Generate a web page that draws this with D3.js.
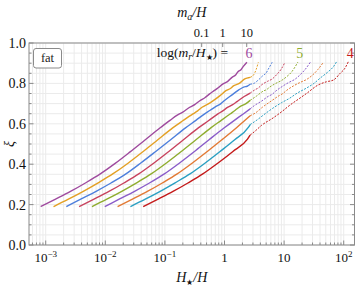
<!DOCTYPE html>
<html>
<head>
<meta charset="utf-8">
<script src="https://cdn.jsdelivr.net/npm/d3@7"></script>
<style>
  body { margin: 0; background: #fff; }
</style>
</head>
<body>
<svg id="chart" width="357" height="288" style="font-family: 'Liberation Serif', 'DejaVu Serif', serif;"></svg>
<script>
// log10(m_r/H*) of each curve, top-left to bottom-right
var logMr = [6, 5.75, 5.5, 5.25, 5, 4.75, 4.5, 4.25, 4];
var colors = ["#9f4a9e", "#e3a024", "#4d7fdc", "#c8435e", "#8fad2f", "#8a5cc9", "#e27a35", "#2a9fc2", "#c41a1a"];

// each curve: [log10(H*/H), xi]
var curves = [
  [[-3.084,.19],[-2.834,.227],[-2.584,.265],[-2.334,.307],[-2.084,.352],[-1.834,.404],[-1.584,.461],[-1.334,.520],[-1.084,.579],[-0.914,.617],[-0.80,.642],[-0.70,.658],[-0.584,.682],[-0.50,.695],[-0.414,.714],[-0.33,.729],[-0.25,.748],[-0.194,.760],[-0.10,.780],[-0.024,.798],[0.05,.809],[0.126,.830],[0.19,.843],[0.226,.858],[0.28,.869],[0.316,.884],[0.376,.905]],
  [[-2.869,.19],[-2.619,.227],[-2.369,.266],[-2.119,.308],[-1.869,.353],[-1.619,.405],[-1.369,.462],[-1.119,.521],[-0.869,.580],[-0.70,.615],[-0.53,.649],[-0.45,.664],[-0.37,.683],[-0.28,.697],[-0.20,.712],[-0.08,.738],[0.03,.765],[0.10,.775],[0.15,.788],[0.22,.796],[0.26,.803],[0.34,.822],[0.40,.828],[0.43,.830],[0.49,.843],[0.53,.868],[0.567,.904]],
  [[-2.654,.19],[-2.404,.228],[-2.154,.266],[-1.904,.307],[-1.654,.352],[-1.404,.406],[-1.154,.463],[-0.904,.521],[-0.654,.580],[-0.48,.617],[-0.32,.652],[-0.24,.667],[-0.16,.683],[-0.06,.700],[0.0,.715],[0.12,.742],[0.24,.768],[0.33,.783],[0.38,.786],[0.43,.796],[0.50,.801],[0.56,.815],[0.65,.84],[0.70,.852],[0.73,.868],[0.80,.905]],
  [[-2.439,.19],[-2.189,.227],[-1.939,.265],[-1.689,.307],[-1.439,.352],[-1.189,.405],[-0.939,.462],[-0.689,.521],[-0.439,.580],[-0.27,.615],[-0.11,.649],[-0.03,.664],[0.05,.681],[0.13,.694],[0.21,.71],[0.33,.735],[0.43,.752],[0.52,.77],[0.57,.778],[0.62,.792],[0.72,.81],[0.80,.822],[0.88,.845],[0.95,.87],[1.015,.905]],
  [[-2.224,.19],[-1.974,.227],[-1.724,.266],[-1.474,.308],[-1.224,.353],[-0.974,.406],[-0.724,.463],[-0.474,.522],[-0.224,.581],[-0.06,.616],[0.10,.650],[0.18,.667],[0.26,.685],[0.36,.700],[0.43,.716],[0.54,.738],[0.65,.762],[0.71,.770],[0.76,.782],[0.86,.80],[0.96,.815],[1.05,.835],[1.13,.858],[1.18,.88],[1.23,.905]],
  [[-2.009,.19],[-1.759,.228],[-1.509,.266],[-1.259,.307],[-1.009,.352],[-0.759,.405],[-0.509,.462],[-0.259,.521],[-0.009,.579],[0.16,.616],[0.32,.650],[0.43,.674],[0.50,.69],[0.62,.712],[0.74,.737],[0.80,.746],[0.86,.762],[0.97,.785],[1.08,.805],[1.18,.82],[1.27,.843],[1.35,.868],[1.44,.905]],
  [[-1.794,.19],[-1.544,.227],[-1.294,.265],[-1.044,.307],[-0.794,.352],[-0.544,.405],[-0.294,.462],[-0.044,.521],[0.206,.582],[0.33,.614],[0.43,.640],[0.52,.654],[0.64,.683],[0.78,.712],[0.92,.74],[0.98,.750],[1.04,.765],[1.16,.788],[1.27,.805],[1.38,.82],[1.48,.842],[1.57,.87],[1.66,.905]],
  [[-1.579,.19],[-1.329,.227],[-1.079,.266],[-0.829,.308],[-0.579,.352],[-0.329,.405],[-0.079,.462],[0.171,.521],[0.40,.582],[0.43,.596],[0.55,.62],[0.66,.645],[0.81,.677],[0.96,.705],[1.09,.726],[1.22,.752],[1.37,.776],[1.50,.80],[1.60,.825],[1.74,.858],[1.82,.88],[1.88,.907]],
  [[-1.364,.19],[-1.114,.227],[-0.864,.265],[-0.614,.307],[-0.364,.352],[-0.114,.405],[0.136,.462],[0.386,.524],[0.43,.544],[0.51,.563],[0.62,.592],[0.82,.63],[0.96,.66],[1.10,.693],[1.24,.722],[1.38,.751],[1.57,.792],[1.71,.808],[1.83,.817],[1.94,.85],[2.02,.875],[2.077,.907]]
];

// beyond this log10(H*/H) the curves are dashed
var dashCut = 0.43;

// labelled curves
var labelIdx = [0, 4, 8];

var xTickExp = [-3, -2, -1, 0, 1, 2];
var yTicks = [0, 0.2, 0.4, 0.6, 0.8, 1.0];

// top axis m_a/H, placed at H*/H values
var topTickLabels = ["0.1", "1", "10"];
var topTickAt = [0.414, 0.933, 2.36];

var svg = d3.select("#chart");
var pl = 29, pr = 354.5, pt = 43, pb = 245;

var x = d3.scaleLog().domain([Math.pow(10, -3.28), Math.pow(10, 2.181)]).range([pl, pr]);
var y = d3.scaleLinear().domain([0, 1]).range([pb, pt]);

// minor/major positions along x
var xMinor = [];
for (var k = -4; k <= 2; k++) {
  for (var m = 1; m <= 9; m++) {
    var v = m * Math.pow(10, k);
    if (v >= x.domain()[0] && v <= x.domain()[1]) xMinor.push({v: v, major: m === 1});
  }
}
var yMinor = d3.range(0, 1.0001, 0.05).map(function(v) {
  return {v: v, major: Math.abs(v * 5 - Math.round(v * 5)) < 1e-6};
});

// grid
var grid = svg.append("g");
grid.selectAll(".gx").data(xMinor).enter().append("line")
  .attr("x1", function(d) { return x(d.v); }).attr("x2", function(d) { return x(d.v); })
  .attr("y1", pt).attr("y2", pb)
  .attr("stroke", "#ebebeb").attr("stroke-width", 1);
grid.selectAll(".gy").data(yMinor).enter().append("line")
  .attr("y1", function(d) { return y(d.v); }).attr("y2", function(d) { return y(d.v); })
  .attr("x1", pl).attr("x2", pr)
  .attr("stroke", "#ebebeb").attr("stroke-width", 1);

// curves
function splitAt(pts, cut) {
  var solid = [], dashed = [];
  for (var i = 0; i < pts.length; i++) {
    var p = pts[i];
    if (i > 0) {
      var q = pts[i - 1];
      if (q[0] < cut && p[0] > cut) {
        var t = (cut - q[0]) / (p[0] - q[0]);
        var mid = [cut, q[1] + t * (p[1] - q[1])];
        solid.push(mid); dashed.push(mid);
      }
    }
    if (p[0] <= cut) solid.push(p);
    if (p[0] >= cut) dashed.push(p);
  }
  return {solid: solid, dashed: dashed};
}

var line = d3.line()
  .x(function(d) { return x(Math.pow(10, d[0])); })
  .y(function(d) { return y(d[1]); })
  .curve(d3.curveMonotoneX);

var plot = svg.append("g");
curves.forEach(function(c, i) {
  var parts = splitAt(c, dashCut);
  if (parts.dashed.length > 1) {
    plot.append("path").attr("d", line(parts.dashed))
      .attr("fill", "none").attr("stroke", colors[i])
      .attr("stroke-width", 1).attr("stroke-dasharray", "2,1.4");
  }
  plot.append("path").attr("d", line(parts.solid))
    .attr("fill", "none").attr("stroke", colors[i])
    .attr("stroke-width", 1.4);
});

// frame and ticks
var frameCol = "#8a8a8a";
svg.append("rect").attr("x", pl).attr("y", pt)
  .attr("width", pr - pl).attr("height", pb - pt)
  .attr("fill", "none").attr("stroke", frameCol).attr("stroke-width", 1);

var ticks = svg.append("g").attr("stroke", frameCol).attr("stroke-width", 1);
ticks.selectAll(".tb").data(xMinor).enter().append("line")
  .attr("x1", function(d) { return x(d.v); }).attr("x2", function(d) { return x(d.v); })
  .attr("y1", pb).attr("y2", function(d) { return pb - (d.major ? 4.5 : 2.5); });
ticks.selectAll(".tl").data(yMinor).enter().append("line")
  .attr("y1", function(d) { return y(d.v); }).attr("y2", function(d) { return y(d.v); })
  .attr("x1", pl).attr("x2", function(d) { return pl + (d.major ? 4.5 : 2.5); });
ticks.selectAll(".tr").data(yMinor).enter().append("line")
  .attr("y1", function(d) { return y(d.v); }).attr("y2", function(d) { return y(d.v); })
  .attr("x1", pr).attr("x2", function(d) { return pr - (d.major ? 4.5 : 2.5); });
ticks.selectAll(".tt").data(topTickAt).enter().append("line")
  .attr("x1", function(d) { return x(d); }).attr("x2", function(d) { return x(d); })
  .attr("y1", pt).attr("y2", pt + 4);

// bottom tick labels
var xl = svg.append("g").attr("font-size", 13).attr("text-anchor", "middle").attr("fill", "#111");
xTickExp.forEach(function(e) {
  var t = xl.append("text").attr("x", x(Math.pow(10, e))).attr("y", 262);
  if (e === 0) { t.text("1"); return; }
  if (e === 1) { t.text("10"); return; }
  t.append("tspan").text("10");
  t.append("tspan").attr("dy", -5).attr("font-size", 9).text(e < 0 ? "\u2212" + (-e) : String(e));
});

// left tick labels
svg.append("g").attr("font-size", 14).attr("text-anchor", "end").attr("fill", "#111")
  .selectAll("text").data(yTicks).enter().append("text")
  .attr("x", 26).attr("y", function(d) { return y(d) + 5; })
  .text(function(d) { return d.toFixed(1); });

// top tick labels
svg.append("g").attr("font-size", 12.5).attr("text-anchor", "middle").attr("fill", "#111")
  .selectAll("text").data(topTickAt).enter().append("text")
  .attr("x", function(d) { return x(d); }).attr("y", 37)
  .text(function(d, i) { return topTickLabels[i]; });

// axis titles
var tt = svg.append("text").attr("x", (pl + pr) / 2).attr("y", 17)
  .attr("text-anchor", "middle").attr("font-size", 14).attr("fill", "#111");
tt.append("tspan").attr("font-style", "italic").text("m");
tt.append("tspan").attr("font-style", "italic").attr("font-size", 10).attr("dy", 3).text("a");
tt.append("tspan").attr("font-style", "italic").attr("dy", -3).text("/H");

var bt = svg.append("text").attr("x", (pl + pr) / 2).attr("y", 282)
  .attr("text-anchor", "middle").attr("font-size", 14).attr("fill", "#111");
bt.append("tspan").attr("font-style", "italic").text("H");
bt.append("tspan").attr("font-size", 8).attr("dy", 3).text("\u2605");
bt.append("tspan").attr("font-style", "italic").attr("dy", -3).text("/H");

svg.append("text").attr("transform", "translate(14," + ((pt + pb) / 2) + ") rotate(-90)")
  .attr("text-anchor", "middle").attr("font-size", 14).attr("font-style", "italic")
  .attr("fill", "#111").text("\u03be");

// annotation for the curve labels
var lg = svg.append("text").attr("x", 228).attr("y", 57)
  .attr("text-anchor", "end").attr("font-size", 13.5).attr("fill", "#111");
lg.append("tspan").text("log(");
lg.append("tspan").attr("font-style", "italic").text("m");
lg.append("tspan").attr("font-style", "italic").attr("font-size", 9.5).attr("dy", 3).text("r");
lg.append("tspan").attr("dy", -3).text("/");
lg.append("tspan").attr("font-style", "italic").text("H");
lg.append("tspan").attr("font-size", 8).attr("dy", 3).text("\u2605");
lg.append("tspan").attr("dy", -3).text(") =");

labelIdx.forEach(function(i) {
  var c = curves[i];
  var end = c[c.length - 1];
  svg.append("text").attr("x", x(Math.pow(10, end[0])) + 2).attr("y", y(0.925))
    .attr("text-anchor", "middle").attr("font-size", 14).attr("fill", colors[i])
    .text(String(logMr[i]));
});

// "fat" box
svg.append("rect").attr("x", 33.5).attr("y", 48.5).attr("width", 28).attr("height", 19.5)
  .attr("rx", 2.5).attr("fill", "#fff").attr("stroke", "#8a8a8a").attr("stroke-width", 1);
svg.append("text").attr("x", 47.5).attr("y", 62).attr("text-anchor", "middle")
  .attr("font-size", 12.5).attr("fill", "#222").text("fat");
</script>
</body>
</html>
